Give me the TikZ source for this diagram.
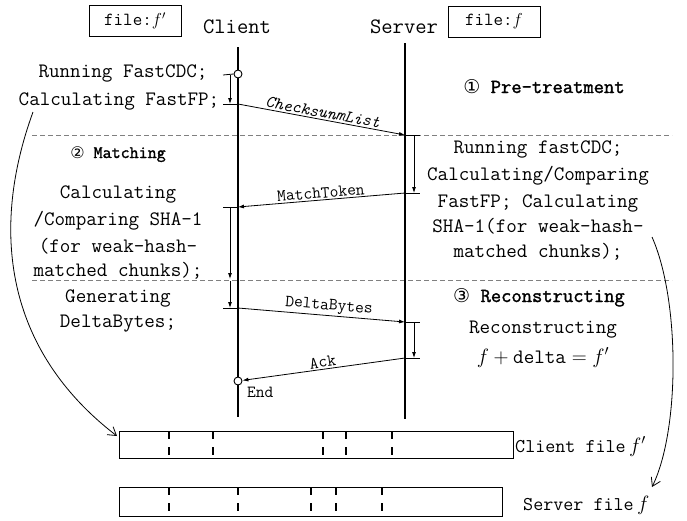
\documentclass[tikz,border=0pt]{standalone}
\usepackage{fontspec}
\usetikzlibrary{arrows.meta}
\newfontfamily\hdfont{Latin Modern Mono}[FakeBold=1.5]
\newfontfamily\symfont{DejaVu Sans}
\begin{document}
\begin{tikzpicture}[x=1pt,y=-1pt,
  body/.style={font=\fontsize{20.5}{26}\selectfont\ttfamily, inner sep=0pt, anchor=base},
  hd/.style={font=\fontsize{20}{26}\selectfont\hdfont, inner sep=0pt, anchor=base},
  msg/.style={font=\fontsize{17}{20}\selectfont\ttfamily, inner sep=1.5pt, sloped, above},
  life/.style={line width=2.6pt},
  thinln/.style={line width=0.8pt},
  arr/.style={thinln, -{Latex[length=6pt,width=4pt]}},
  sepline/.style={gray, line width=0.9pt, dash pattern=on 5pt off 3pt},
  filebox/.style={draw, line width=1pt, minimum width=92pt, minimum height=31pt, inner sep=0pt, font=\fontsize{18.5}{20}\selectfont\ttfamily},
  segline/.style={line width=1.2pt, dash pattern=on 8pt off 8pt},
  barbox/.style={draw, line width=1.2pt, inner sep=0pt, anchor=north west},
  lifecirc/.style={circle, draw, fill=white, line width=0.9pt, minimum size=8pt, inner sep=0pt},
  curvearr/.style={line width=0.8pt, -{Straight Barb[length=8pt,width=10pt]}},
]
\useasboundingbox (0,0) rectangle (687,520);

% separators
\coordinate (d1l) at (32,135); \coordinate (d1r) at (672,135);
\coordinate (d2l) at (32,280); \coordinate (d2r) at (672,280);
\draw[sepline] (d1l) -- (d1r);
\draw[sepline] (d2l) -- (d2r);

% header boxes and names
\node[filebox] (fbc) at (135,20.5) {file:$f'$};
\node[filebox] (fbs) at (494,21.5) {file:$f$};
\node[body, font=\fontsize{22}{26}\selectfont\ttfamily] (clabel) at (237,33) {Client};
\node[body, font=\fontsize{22}{26}\selectfont\ttfamily] (slabel) at (404,33) {Server};

% lifelines
\coordinate (ctop) at (238,47); \coordinate (cbot) at (238,417);
\coordinate (stop) at (405,43); \coordinate (sbot) at (405,419);
\draw[life] (ctop) -- (cbot);
\draw[life] (stop) -- (sbot);

\node[lifecirc] (startc) at (238,74) {};
\node[lifecirc] (endc) at (238,381) {};

% ticks
\foreach \y/\n in {75/ct0,104/ct1,207/ct2,308/ct3} {
  \coordinate (\n) at (238,\y); \coordinate (\n-l) at (223,\y);
}
\foreach \y/\n in {135/st0,193/st1,322/st2,358/st3} {
  \coordinate (\n) at (405,\y); \coordinate (\n-r) at (420,\y);
}
\draw[thinln] (ct0-l) -- (startc.west);
\draw[thinln] (ct1-l) -- (ct1);
\draw[thinln] (ct2-l) -- (ct2);
\draw[thinln] (ct3-l) -- (ct3);
\draw[thinln] (st0) -- (st0-r);
\draw[thinln] (st1) -- (st1-r);
\draw[thinln] (st2) -- (st2-r);
\draw[thinln] (st3) -- (st3-r);

% vertical activity arrows
\coordinate (va0) at (230,75);  \coordinate (va1) at (230,104);
\coordinate (va2) at (230,207); \coordinate (va3) at (230,279);
\coordinate (va4) at (230,281); \coordinate (va5) at (230,308);
\coordinate (vb0) at (414,135); \coordinate (vb1) at (414,193);
\coordinate (vb2) at (414,322); \coordinate (vb3) at (414,358);
\draw[arr] (va0) -- (va1);
\draw[arr] (va2) -- (va3);
\draw[arr] (va4) -- (va5);
\draw[arr] (vb0) -- (vb1);
\draw[arr] (vb2) -- (vb3);

% messages
\draw[arr] (ct1) -- node[msg, font=\fontsize{17}{20}\selectfont\ttfamily\itshape] (m1) {ChecksunmList} (st0);
\draw[arr] (st1) -- node[msg] (m2) {MatchToken} (ct2);
\draw[arr] (ct3) -- node[msg, pos=0.54] (m3) {DeltaBytes} (st2);
\draw[arr] (st3) -- node[msg] (m4) {Ack} (endc);
\node[body, font=\fontsize{17}{20}\selectfont\ttfamily, anchor=base west] (endl) at (247,397) {End};

% left texts
\node[body] (l1a) at (123,77) {Running FastCDC;};
\node[body] (l1b) at (119,105) {Calculating FastFP;};
\node[hd, font=\fontsize{17.5}{20}\selectfont\hdfont] (h2) at (118,158) {{\symfont\fontsize{16}{20}\selectfont ②} Matching};
\node[body] (l2a) at (118,198) {Calculating};
\node[body] (l2b) at (118,225) {/Comparing SHA-1};
\node[body] (l2c) at (118,252) {(for weak-hash-};
\node[body] (l2d) at (118,276) {matched chunks);};
\node[body] (l3a) at (118,302) {Generating};
\node[body] (l3b) at (118,327) {DeltaBytes;};

% right texts
\node[hd] (h1) at (544,93) {{\symfont\fontsize{19}{20}\selectfont ①} Pre-treatment};
\node[body] (r1a) at (538,153) {Running fastCDC;};
\node[body] (r1b) at (538,180) {Calculating/Comparing};
\node[body] (r1c) at (538,207) {FastFP; Calculating};
\node[body] (r1d) at (538,232) {SHA-1(for weak-hash-};
\node[body] (r1e) at (538,257) {matched chunks);};
\node[hd] (h3) at (539,302) {{\symfont\fontsize{19}{20}\selectfont ③} Reconstructing};
\node[body] (r3a) at (543,333) {Reconstructing};
\node[body] (r3b) at (543,363) {$f+{}$delta${}=f'$};

% file bars
\node[barbox, minimum width=394pt, minimum height=27pt] (cfile) at (119,431) {};
\node[barbox, minimum width=383pt, minimum height=29pt] (sfile) at (119,487) {};
\foreach \x in {169,213,323,346,392} \draw[segline] (\x,431) -- (\x,458);
\foreach \x in {169,238,311,336,382} \draw[segline] (\x,487) -- (\x,516);
\node[body, font=\fontsize{19.5}{24}\selectfont\ttfamily, anchor=base west] (cfl) at (515,452) {Client file$\,f'$};
\node[body, font=\fontsize{19.5}{24}\selectfont\ttfamily, anchor=base west] (sfl) at (523,510) {Server file$\,f$};

% curved arrows
\coordinate (lc0) at (33,112); \coordinate (lc1) at (117,436);
\coordinate (rc0) at (652,237); \coordinate (rc1) at (652,487);
\draw[curvearr] (lc0) .. controls (-10,230) and (5,350) .. (lc1);
\draw[curvearr] (rc0) .. controls (680,300) and (680,430) .. (rc1);
\end{tikzpicture}
\end{document}
